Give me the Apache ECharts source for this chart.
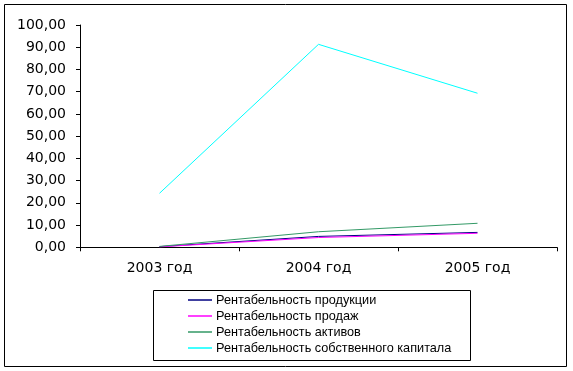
<!DOCTYPE html>
<html><head><meta charset="utf-8">
<script src="https://cdn.jsdelivr.net/npm/echarts@6/dist/echarts.min.js"></script>
<style>html,body{margin:0;padding:0;background:#fff}#c{width:573px;height:371px}</style>
</head><body><div id="c"></div>
<script>
const categories = ['2003 год', '2004 год', '2005 год'];
const seriesNames = ['Рентабельность продукции', 'Рентабельность продаж', 'Рентабельность активов', 'Рентабельность собственного капитала'];
const productProfit = [0.3, 4.9, 6.7];
const salesProfit = [0.2, 4.4, 6.3];
const assetsProfit = [0.4, 7.0, 10.8];
const equityProfit = [24.3, 91.3, 69.3];
const colors = ['#000080', '#FF00FF', '#339966', '#00FFFF'];
const allValues = [productProfit, salesProfit, assetsProfit, equityProfit];

const font = 'DejaVu Sans';
const chart = echarts.init(document.getElementById('c'), null, {renderer: 'canvas'});
chart.setOption({
  animation: false,
  backgroundColor: '#fff',
  graphic: [
    {type: 'rect', shape: {x: 4.5, y: 4.5, width: 562, height: 362}, style: {fill: 'none', stroke: '#000', lineWidth: 1}, z: -1},
    {type: 'rect', shape: {x: 153.5, y: 290.5, width: 317, height: 70}, style: {fill: '#fff', stroke: '#000', lineWidth: 1}, z: -1}
  ],
  grid: {left: 80, right: 16, top: 25, bottom: 123.7, containLabel: false},
  legend: {
    orient: 'vertical', left: 188, top: 292, itemGap: 0, padding: 0,
    icon: 'rect', itemWidth: 24, itemHeight: 1.5,
    textStyle: {fontFamily: 'Liberation Sans', fontSize: 12.7, color: '#000', lineHeight: 16, padding: [0, 0, 0, -1]},
    data: seriesNames
  },
  xAxis: {
    type: 'category', data: categories, boundaryGap: true,
    axisLine: {lineStyle: {color: '#000', width: 1}},
    axisTick: {show: true, length: 4, lineStyle: {color: '#000'}},
    axisLabel: {fontFamily: font, fontSize: 14, color: '#000', margin: 14},
    splitLine: {show: false}
  },
  yAxis: {
    type: 'value', min: 0, max: 100, interval: 10,
    axisLine: {show: true, lineStyle: {color: '#000', width: 1}},
    axisTick: {show: true, length: 4, lineStyle: {color: '#000'}},
    axisLabel: {fontFamily: font, fontSize: 14, color: '#000', margin: 14,
      formatter: v => v.toFixed(2).replace('.', ',')},
    splitLine: {show: false}
  },
  series: seriesNames.map((n, i) => ({
    name: n, type: 'line', data: allValues[i], symbol: 'none',
    lineStyle: {color: colors[i], width: 1}, itemStyle: {color: colors[i]}
  }))
});
</script></body></html>
